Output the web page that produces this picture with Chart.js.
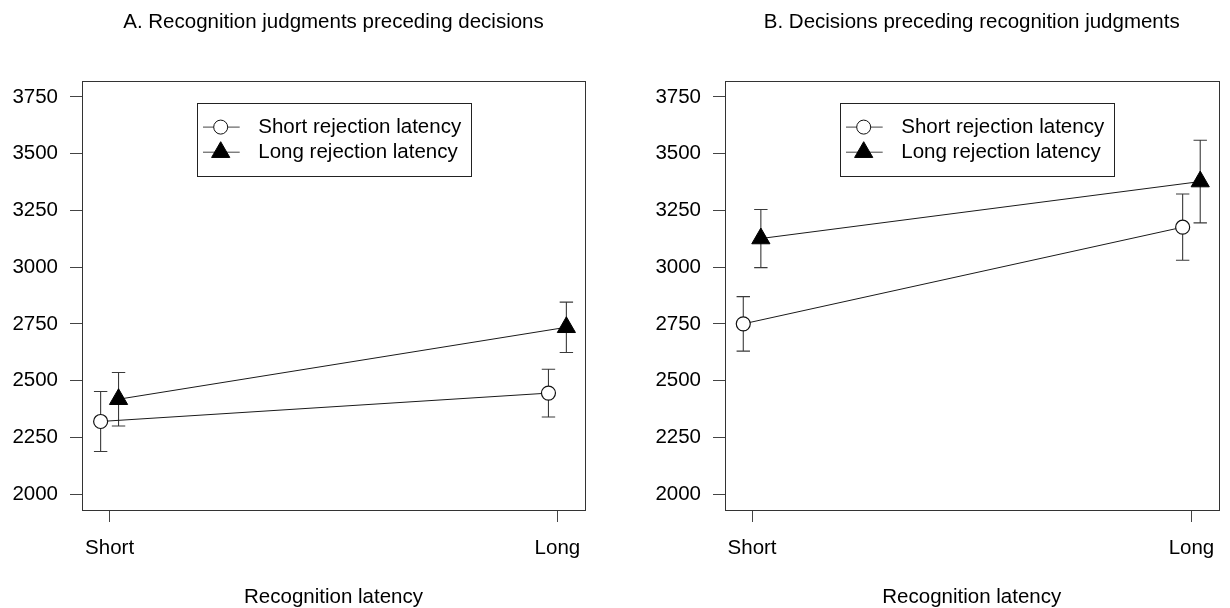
<!DOCTYPE html>
<html>
<head>
<meta charset="utf-8">
<script src="https://cdn.jsdelivr.net/npm/chart.js@4.4.1/dist/chart.umd.min.js"></script>
<style>
  body { margin: 0; background: #fff; }
  #wrap { position: relative; width: 1230px; height: 608px; }
  canvas { position: absolute; top: 0; }
</style>
</head>
<body>
<div id="wrap">
  <canvas id="panelA" width="615" height="608" style="left:0"></canvas>
  <canvas id="panelB" width="615" height="608" style="left:615px"></canvas>
</div>
<script>
const categories = ['Short', 'Long'];
const seriesNames = ['Short rejection latency', 'Long rejection latency'];
const yTicks = [2000, 2250, 2500, 2750, 3000, 3250, 3500, 3750];

// A. recognition judgments first
const aShortMeans = [2320, 2445];
const aShortErr = [132, 105];
const aLongMeans = [2418, 2735];
const aLongErr = [118, 111];

// B. decisions first
const bShortMeans = [2750, 3176];
const bShortErr = [120, 146];
const bLongMeans = [3126, 3377];
const bLongErr = [128, 182];

const FONT = { family: '"Liberation Sans", Arial, Helvetica, sans-serif', size: 20.5 };
const INK = '#1a1a1a';
const dodge = 0.02;

function points(means, shift) {
  return means.map((v, i) => ({ x: i + 1 + shift, y: v }));
}

const errorBars = {
  id: 'errorBars',
  beforeDatasetsDraw(chart) {
    const ctx = chart.ctx;
    const y = chart.scales.y;
    ctx.save();
    ctx.strokeStyle = '#3a3a3a';
    ctx.lineWidth = 1.1;
    chart.data.datasets.forEach((ds, di) => {
      const meta = chart.getDatasetMeta(di);
      meta.data.forEach((pt, i) => {
        const top = y.getPixelForValue(ds.data[i].y + ds.errors[i]);
        const bot = y.getPixelForValue(ds.data[i].y - ds.errors[i]);
        ctx.beginPath();
        ctx.moveTo(pt.x, top); ctx.lineTo(pt.x, bot);
        ctx.moveTo(pt.x - 6.7, top); ctx.lineTo(pt.x + 6.7, top);
        ctx.moveTo(pt.x - 6.7, bot); ctx.lineTo(pt.x + 6.7, bot);
        ctx.stroke();
      });
    });
    ctx.restore();
  }
};

const frame = {
  id: 'frame',
  beforeDatasetsDraw(chart) {
    const a = chart.chartArea, ctx = chart.ctx;
    ctx.save();
    ctx.strokeStyle = '#333';
    ctx.lineWidth = 1;
    ctx.strokeRect(Math.round(a.left) + 0.5, Math.round(a.top) + 0.5,
      Math.round(a.right - a.left), Math.round(a.bottom - a.top));
    ctx.restore();
  }
};

const panelTitle = {
  id: 'panelTitle',
  afterDraw(chart, args, opts) {
    const a = chart.chartArea, ctx = chart.ctx;
    ctx.save();
    ctx.font = FONT.size + 'px ' + FONT.family;
    ctx.fillStyle = '#000';
    ctx.textAlign = 'center';
    ctx.textBaseline = 'middle';
    ctx.fillText(opts.text, (a.left + a.right) / 2, 22);
    ctx.restore();
  }
};

const boxLegend = {
  id: 'boxLegend',
  afterDraw(chart) {
    const a = chart.chartArea, ctx = chart.ctx;
    const left = a.left + 115, top = a.top + 21.6, w = 273.5, h = 73.4;
    ctx.save();
    ctx.fillStyle = '#fff';
    ctx.fillRect(left, top, w, h);
    ctx.strokeStyle = '#222';
    ctx.lineWidth = 1;
    ctx.strokeRect(Math.round(left) + 0.5, Math.round(top) + 0.5, Math.round(w), Math.round(h));
    ctx.font = FONT.size + 'px ' + FONT.family;
    ctx.textBaseline = 'middle';
    chart.data.datasets.forEach((ds, i) => {
      const cy = top + 24.5 + i * 25.1;
      const cx = left + 23.7;
      ctx.strokeStyle = '#444';
      ctx.beginPath();
      ctx.moveTo(left + 6, cy); ctx.lineTo(left + 42.7, cy);
      ctx.stroke();
      ctx.fillStyle = ds.pointBackgroundColor;
      ctx.strokeStyle = ds.pointBorderColor;
      ctx.beginPath();
      if (ds.pointStyle === 'triangle') {
        const r = ds.pointRadius;
        for (let k = 0; k < 3; k++) {
          const ang = k * 2 * Math.PI / 3;
          const px = cx + Math.sin(ang) * r, py = cy - Math.cos(ang) * r;
          if (k === 0) ctx.moveTo(px, py); else ctx.lineTo(px, py);
        }
        ctx.closePath();
      } else {
        ctx.arc(cx, cy, ds.pointRadius, 0, 2 * Math.PI);
      }
      ctx.fill();
      ctx.stroke();
      ctx.fillStyle = '#000';
      ctx.fillText(ds.label, left + 61.3, cy);
    });
    ctx.restore();
  }
};

function makePanel(id, title, shortMeans, shortErr, longMeans, longErr, yWidth, padRight) {
  return new Chart(document.getElementById(id), {
    type: 'line',
    data: {
      datasets: [{
        label: seriesNames[0],
        data: points(shortMeans, -dodge),
        errors: shortErr,
        borderColor: INK,
        borderWidth: 1,
        pointStyle: 'circle',
        pointRadius: 7,
        pointBackgroundColor: '#fff',
        pointBorderColor: '#111',
        pointBorderWidth: 1.2
      }, {
        label: seriesNames[1],
        data: points(longMeans, dodge),
        errors: longErr,
        borderColor: INK,
        borderWidth: 1,
        pointStyle: 'triangle',
        pointRadius: 10.5,
        pointBackgroundColor: '#000',
        pointBorderColor: '#000',
        pointBorderWidth: 1
      }]
    },
    options: {
      responsive: false,
      animation: false,
      layout: { padding: { left: 0, right: padRight, top: 81, bottom: 0 } },
      plugins: {
        legend: { display: false },
        tooltip: { enabled: false },
        panelTitle: { text: title }
      },
      scales: {
        x: {
          type: 'linear',
          min: 0.9384,
          max: 2.0616,
          afterBuildTicks: s => { s.ticks = categories.map((c, i) => ({ value: i + 1 })); },
          afterFit: s => { s.height = 98; },
          ticks: {
            callback: (v, i) => categories[i],
            font: FONT, color: '#000', padding: 14,
            autoSkip: false, maxRotation: 0
          },
          grid: { drawOnChartArea: false, tickLength: 12, color: '#444' },
          border: { display: false },
          title: {
            display: true, text: 'Recognition latency',
            font: { ...FONT, lineHeight: 1 }, color: '#000', padding: 0
          }
        },
        y: {
          type: 'linear',
          min: 1930,
          max: 3820,
          afterBuildTicks: s => { s.ticks = yTicks.map(v => ({ value: v })); },
          afterFit: s => { s.width = yWidth; },
          ticks: {
            callback: v => String(v),
            font: FONT, color: '#000', padding: 12
          },
          grid: { drawOnChartArea: false, tickLength: 12, color: '#444' },
          border: { display: false }
        }
      }
    },
    plugins: [frame, errorBars, boxLegend, panelTitle]
  });
}

makePanel('panelA', 'A. Recognition judgments preceding decisions',
  aShortMeans, aShortErr, aLongMeans, aLongErr, 82, 30);
makePanel('panelB', 'B. Decisions preceding recognition judgments',
  bShortMeans, bShortErr, bLongMeans, bLongErr, 110, 2);
</script>
</body>
</html>
